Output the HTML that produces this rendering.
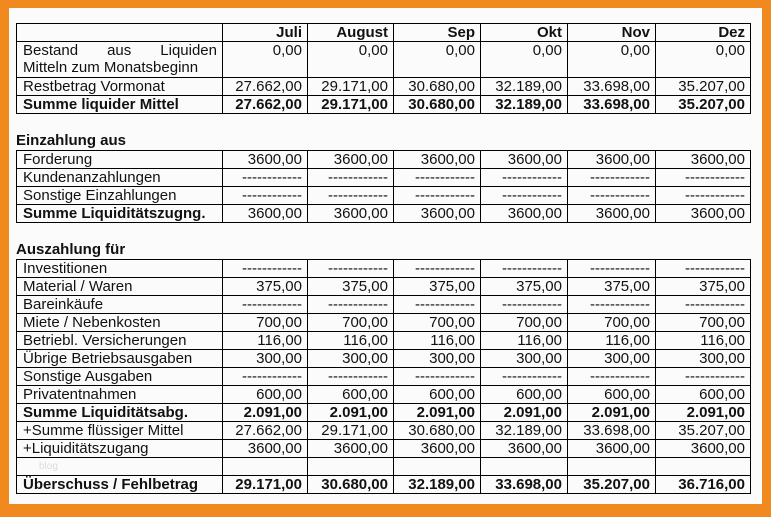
<!DOCTYPE html>
<html><head><meta charset="utf-8"><style>
html,body{margin:0;padding:0}
body{width:771px;height:517px;background:#f08a1e;position:relative;overflow:hidden;font-family:"Liberation Sans",Arial,sans-serif}
.in{position:absolute;left:9px;top:8px;width:753px;height:496px;background:#fbfbfb}
table{position:absolute;left:16px;border-collapse:collapse;table-layout:fixed;font-size:15px;color:#111}
td{border:1.3px solid #000;padding:0 5px 0 6px;height:17px;line-height:17px;text-align:right;white-space:nowrap;overflow:hidden}
td:first-child{text-align:left}
tr.b td{font-weight:bold}
.h{position:absolute;left:16px;font-weight:bold;font-size:15px;color:#111}
.j{display:flex;justify-content:space-between}
</style></head><body><div class="in"></div>
<table style="top:23px"><colgroup><col style="width:206px"><col style="width:85px"><col style="width:86px"><col style="width:87px"><col style="width:87px"><col style="width:88px"><col style="width:95px"></colgroup>
<tr class="b"><td></td><td>Juli</td><td>August</td><td>Sep</td><td>Okt</td><td>Nov</td><td>Dez</td></tr>
<tr><td style="height:35px;vertical-align:top"><div class="j"><span>Bestand</span><span>aus</span><span>Liquiden</span></div>Mitteln zum Monatsbeginn</td><td style="vertical-align:top">0,00</td><td style="vertical-align:top">0,00</td><td style="vertical-align:top">0,00</td><td style="vertical-align:top">0,00</td><td style="vertical-align:top">0,00</td><td style="vertical-align:top">0,00</td></tr>
<tr><td>Restbetrag Vormonat</td><td>27.662,00</td><td>29.171,00</td><td>30.680,00</td><td>32.189,00</td><td>33.698,00</td><td>35.207,00</td></tr>
<tr class="b"><td>Summe liquider Mittel</td><td>27.662,00</td><td>29.171,00</td><td>30.680,00</td><td>32.189,00</td><td>33.698,00</td><td>35.207,00</td></tr>
</table>
<div class="h" style="top:132px">Einzahlung aus</div>
<table style="top:150px"><colgroup><col style="width:206px"><col style="width:85px"><col style="width:86px"><col style="width:87px"><col style="width:87px"><col style="width:88px"><col style="width:95px"></colgroup>
<tr><td>Forderung</td><td>3600,00</td><td>3600,00</td><td>3600,00</td><td>3600,00</td><td>3600,00</td><td>3600,00</td></tr>
<tr><td>Kundenanzahlungen</td><td>------------</td><td>------------</td><td>------------</td><td>------------</td><td>------------</td><td>------------</td></tr>
<tr><td>Sonstige Einzahlungen</td><td>------------</td><td>------------</td><td>------------</td><td>------------</td><td>------------</td><td>------------</td></tr>
<tr class="b"><td>Summe Liquiditätszugng.</td><td style="font-weight:normal">3600,00</td><td style="font-weight:normal">3600,00</td><td style="font-weight:normal">3600,00</td><td style="font-weight:normal">3600,00</td><td style="font-weight:normal">3600,00</td><td style="font-weight:normal">3600,00</td></tr>
</table>
<div class="h" style="top:241px">Auszahlung für</div>
<table style="top:259px"><colgroup><col style="width:206px"><col style="width:85px"><col style="width:86px"><col style="width:87px"><col style="width:87px"><col style="width:88px"><col style="width:95px"></colgroup>
<tr><td>Investitionen</td><td>------------</td><td>------------</td><td>------------</td><td>------------</td><td>------------</td><td>------------</td></tr>
<tr><td>Material / Waren</td><td>375,00</td><td>375,00</td><td>375,00</td><td>375,00</td><td>375,00</td><td>375,00</td></tr>
<tr><td>Bareinkäufe</td><td>------------</td><td>------------</td><td>------------</td><td>------------</td><td>------------</td><td>------------</td></tr>
<tr><td>Miete / Nebenkosten</td><td>700,00</td><td>700,00</td><td>700,00</td><td>700,00</td><td>700,00</td><td>700,00</td></tr>
<tr><td>Betriebl. Versicherungen</td><td>116,00</td><td>116,00</td><td>116,00</td><td>116,00</td><td>116,00</td><td>116,00</td></tr>
<tr><td>Übrige Betriebsausgaben</td><td>300,00</td><td>300,00</td><td>300,00</td><td>300,00</td><td>300,00</td><td>300,00</td></tr>
<tr><td>Sonstige Ausgaben</td><td>------------</td><td>------------</td><td>------------</td><td>------------</td><td>------------</td><td>------------</td></tr>
<tr><td>Privatentnahmen</td><td>600,00</td><td>600,00</td><td>600,00</td><td>600,00</td><td>600,00</td><td>600,00</td></tr>
<tr class="b"><td>Summe Liquiditätsabg.</td><td>2.091,00</td><td>2.091,00</td><td>2.091,00</td><td>2.091,00</td><td>2.091,00</td><td>2.091,00</td></tr>
<tr><td>+Summe flüssiger Mittel</td><td>27.662,00</td><td>29.171,00</td><td>30.680,00</td><td>32.189,00</td><td>33.698,00</td><td>35.207,00</td></tr>
<tr><td>+Liquiditätszugang</td><td>3600,00</td><td>3600,00</td><td>3600,00</td><td>3600,00</td><td>3600,00</td><td>3600,00</td></tr>
<tr><td style="color:#ddd;font-size:10px;padding-left:22px">blog</td><td></td><td></td><td></td><td></td><td></td><td></td></tr>
<tr class="b"><td>Überschuss / Fehlbetrag</td><td>29.171,00</td><td>30.680,00</td><td>32.189,00</td><td>33.698,00</td><td>35.207,00</td><td>36.716,00</td></tr>
</table>
</body></html>
